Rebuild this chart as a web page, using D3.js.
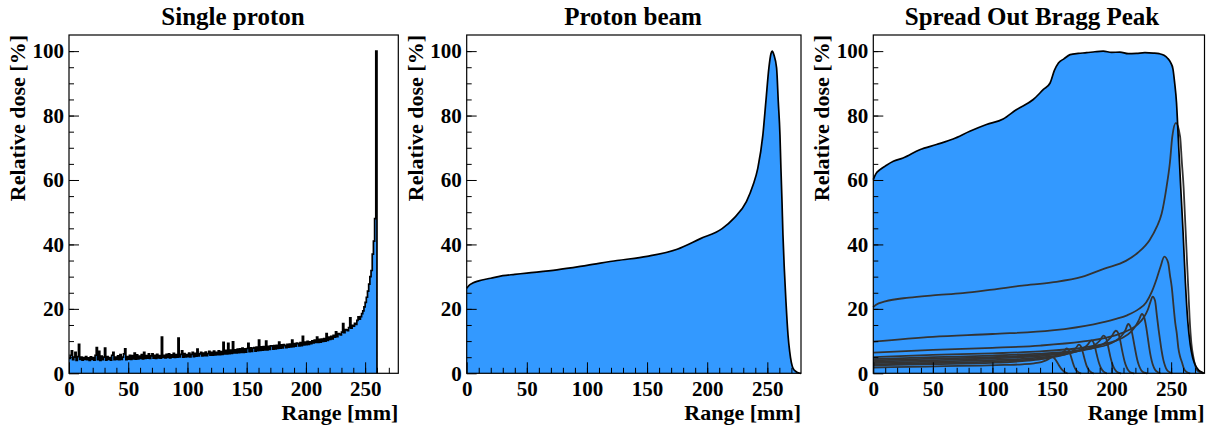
<!DOCTYPE html>
<html>
<head>
<meta charset="utf-8">
<script src="https://cdn.jsdelivr.net/npm/d3@7"></script>
<style>
  body { margin: 0; background: #fff; }
  text { font-family: "Liberation Serif", "Times New Roman", serif; font-weight: bold; }
</style>
</head>
<body>
<div id="chart"></div>
<script>
// ---- data ----
var panelTitles = ["Single proton", "Proton beam", "Spread Out Bragg Peak"];
var xTickLabels = [0, 50, 100, 150, 200, 250];
var yTickLabels = [0, 20, 40, 60, 80, 100];

// single proton: 1 mm bins from 0 to 260
var singleDose = [
  4.6, 5.6, 7.0, 4.2, 5.0, 6.5, 4.0, 5.2, 9.0, 4.3,
  5.0, 4.1, 4.9, 4.3, 5.2, 4.2, 4.8, 4.0, 5.1, 4.3,
  4.9, 4.1, 5.6, 8.0, 4.2, 6.8, 4.0, 5.3, 4.2, 5.0,
  7.8, 4.1, 5.2, 4.3, 4.9, 4.1, 5.6, 6.5, 4.2, 5.0,
  4.3, 5.4, 4.2, 5.8, 4.3, 5.0, 6.0, 7.6, 4.2, 5.2,
  4.4, 5.6, 4.3, 5.5, 4.5, 6.3, 4.4, 5.7, 4.5, 5.3,
  4.6, 5.8, 4.5, 6.5, 4.6, 5.5, 4.7, 6.0, 4.6, 5.4,
  6.0, 4.7, 5.6, 4.6, 5.9, 4.8, 5.5, 4.7, 11.2, 4.9,
  5.6, 4.8, 5.9, 4.9, 6.0, 4.8, 5.7, 5.0, 6.2, 4.9,
  5.8, 5.0, 10.9, 5.1, 5.9, 7.0, 5.0, 6.1, 5.1, 5.8,
  5.2, 6.3, 5.1, 5.9, 6.5, 5.2, 6.2, 5.3, 7.5, 5.4,
  6.0, 6.5, 5.4, 6.3, 5.5, 6.6, 5.5, 6.1, 6.8, 5.6,
  6.5, 5.6, 6.9, 5.7, 6.5, 5.8, 7.0, 5.8, 6.7, 5.9,
  9.6, 6.0, 7.1, 6.0, 9.3, 6.1, 7.2, 6.2, 9.8, 6.3,
  7.3, 6.3, 7.5, 6.4, 7.6, 6.5, 7.8, 6.5, 7.6, 6.6,
  7.7, 9.3, 6.7, 7.9, 6.8, 7.8, 8.0, 6.9, 8.1, 7.0,
  10.3, 7.1, 8.2, 7.2, 8.3, 7.3, 10.0, 7.3, 8.4, 7.4,
  8.5, 8.5, 7.5, 8.6, 7.6, 8.7, 7.7, 9.7, 7.8, 8.8,
  7.9, 8.9, 8.6, 8.0, 9.0, 8.1, 9.1, 8.2, 10.3, 8.3,
  9.2, 8.4, 9.4, 9.2, 8.5, 9.5, 8.6, 11.5, 8.8, 9.7,
  8.9, 9.9, 9.0, 9.8, 9.2, 10.1, 9.4, 10.3, 9.6, 11.2,
  9.6, 10.5, 9.7, 10.6, 9.9, 10.8, 10.0, 12.3, 10.2, 11.2,
  10.5, 11.5, 10.7, 11.8, 11.2, 12.9, 11.4, 12.3, 12.2, 11.9,
  12.8, 15.4, 12.6, 13.6, 13.5, 13.2, 14.2, 17.2, 14.0, 14.9,
  14.6, 15.5, 15.2, 16.4, 17.5, 16.8, 17.6, 18.5, 19.4, 20.6,
  22.0, 23.6, 25.5, 27.7, 30.0, 31.9, 37.0, 41.0, 48.0, 100
];

// proton beam depth dose [mm, %]
var beamX = [0, 2, 5, 10, 20, 30, 40, 50, 75, 100, 125, 150, 175, 194.4, 212.4, 222.1,
  232.6, 238.2, 242.1, 246.3, 248.8, 251.3, 253, 254.1, 255.5, 257.7, 259.1, 260.5, 261.3,
  262.2, 263.0, 264.1, 265.5, 267.2, 268.6, 271.4, 274, 276.4, 278];
var beamY = [26.4, 27.3, 28.0, 28.7, 29.5, 30.3, 30.7, 31.1, 32.1, 33.5, 35.0, 36.3, 38.5, 41.8, 44.9, 48.1,
  53.3, 58.5, 63.7, 74.0, 84.4, 94.8, 99.2, 100, 98.8, 94.8, 84.4, 74.0, 63.7,
  53.3, 42.9, 32.6, 22.2, 11.9, 6.7, 1.5, 0.5, 0.1, 0];

// spread out Bragg peak (sum) [mm, %]
var sobp = [[0, 60.1], [2, 61.8], [5.6, 63.2], [10, 64.3], [16.8, 65.8], [25, 66.8], [39, 69.4],
  [53, 71.0], [67, 72.7], [81, 75.1], [95, 77.2], [109, 78.9], [120, 81.8], [134, 84.9],
  [142.8, 88.1], [148.4, 90.1], [152, 94.0], [155.4, 96.3], [160, 97.6], [165.2, 98.9],
  [172, 99.3], [179, 99.5], [186, 99.8], [193, 100], [200, 99.6], [207, 99.7], [214, 99.2],
  [221, 99.3], [228, 99.5], [235, 99.4], [240, 99.2], [244, 98.7], [247, 97.8], [249.5, 96.5],
  [251.5, 94.5], [253, 90], [254.5, 84], [256, 73], [258, 58], [260, 44], [262, 28], [264, 16],
  [266, 9], [268, 5], [270, 2.8], [273, 1], [276, 0.3], [277.5, 0]];

// weighted pristine peaks [mm, %]
var peak254 = [[0, 20.5], [2, 21.2], [10, 22.3], [30, 23.5], [50, 24.2], [75, 24.9], [100, 26.0],
  [125, 27.2], [150, 28.2], [175, 29.9], [194, 32.5], [212, 34.9], [222, 37.4], [232, 41.4],
  [238, 45.5], [242, 49.5], [246, 57.5], [249, 65.5], [251, 73.5], [254, 77.7], [257.5, 73.5],
  [259, 65.5], [260.5, 57.5], [261.5, 49.5], [262.5, 41.5], [263.5, 33.3], [264.5, 25.3],
  [265.5, 17.2], [267, 9.2], [268.6, 5.2], [271.4, 1.2], [274, 0.4], [277, 0]];
var peak244 = [[0, 9.8], [50, 11.3], [100, 12.2], [150, 13.3], [185, 15.2], [203, 16.8], [213, 18.0],
  [223, 20.0], [229, 22.0], [234, 25.5], [238, 29.5], [241, 33.0], [244.3, 36.2], [247.5, 34.3],
  [249, 30.5], [250.5, 26.8], [251.5, 23], [252.5, 19], [253.5, 15.5], [254.7, 12.5], [256, 8],
  [257.5, 5.2], [259, 3.5], [261, 1.2], [263, 0.4], [266, 0]];
var peak234 = [[0, 6.4], [50, 7.3], [100, 7.9], [140, 8.6], [175, 9.8], [195, 11.0], [205, 12.0],
  [215, 13.5], [222, 15.2], [227, 17.3], [230.5, 19.8], [232.5, 22.0], [234.5, 23.8], [236.5, 22.5],
  [238, 18], [239.5, 13.5], [240.7, 10.3], [242, 7], [243.5, 4.1], [245, 2.2], [246.5, 1.0],
  [249, 0.3], [251, 0]];
var peak225 = [[0, 5.0], [50, 5.7], [100, 6.2], [140, 6.8], [170, 7.7], [190, 8.8], [202, 9.9],
  [210, 11.2], [216, 12.8], [220, 14.6], [223, 16.6], [225.5, 18.4], [227.5, 17.2], [229, 14.5],
  [230.5, 10.8], [231.5, 8.2], [233, 5.0], [234.5, 2.8], [236.5, 1.1], [239, 0.3], [241, 0]];
var peak214 = [[0, 4.4], [50, 5.0], [100, 5.5], [140, 6.1], [165, 6.8], [183, 7.7], [195, 8.7],
  [203, 10.0], [208, 11.5], [211.5, 13.3], [214, 15.3], [216, 14.3], [217.5, 12], [219, 9],
  [220, 7], [221.5, 4.3], [223, 2.4], [225, 0.9], [227.5, 0.2], [230, 0]];
var peak204 = [[0, 4.0], [50, 4.55], [100, 5.0], [135, 5.6], [160, 6.4], [177, 7.3], [188, 8.3],
  [195, 9.6], [199.5, 11.2], [203.7, 13.2], [205.7, 12.4], [207.2, 10.3], [208.6, 7.6], [209.6, 5.8],
  [211, 3.6], [212.5, 2.0], [214.5, 0.7], [217, 0.1], [219, 0]];
var peak193 = [[0, 3.6], [50, 4.1], [100, 4.6], [130, 5.1], [152, 5.8], [168, 6.6], [179, 7.6],
  [186, 8.8], [190, 10.1], [193.3, 11.7], [195.2, 11.0], [196.7, 9.1], [198, 6.8], [199, 5.1],
  [200.4, 3.2], [202, 1.7], [204, 0.6], [206.5, 0.1], [208, 0]];
var peak183 = [[0, 3.2], [50, 3.65], [100, 4.1], [125, 4.5], [145, 5.1], [160, 5.8], [170, 6.7],
  [176, 7.7], [180, 8.9], [183, 10.2], [184.8, 9.6], [186.2, 7.9], [187.5, 5.9], [188.5, 4.4],
  [189.8, 2.8], [191.3, 1.5], [193.3, 0.5], [196, 0]];
var peak172 = [[0, 2.8], [50, 3.2], [100, 3.65], [120, 4.0], [138, 4.5], [152, 5.1], [161, 5.9],
  [167, 6.8], [170, 7.8], [172.5, 8.9], [174.2, 8.4], [175.6, 6.9], [176.8, 5.2], [177.8, 3.8],
  [179, 2.4], [180.5, 1.3], [182.5, 0.4], [185, 0]];
var peak162 = [[0, 2.5], [50, 2.85], [100, 3.25], [115, 3.5], [130, 3.95], [143, 4.5], [151, 5.1],
  [157, 5.9], [160, 6.8], [162.3, 7.7], [164, 7.3], [165.3, 6.0], [166.5, 4.5], [167.5, 3.3],
  [168.6, 2.1], [170, 1.1], [172, 0.35], [174.5, 0]];
var peak150 = [[0, 1.8], [30, 2.0], [60, 2.2], [90, 2.4], [110, 2.6], [125, 2.8], [135, 3.1],
  [141, 3.5], [145, 4.0], [148, 4.6], [150, 5.0], [151.5, 4.8], [153, 4.2], [155, 3.0],
  [157, 1.8], [159, 0.9], [161, 0.3], [163, 0]];
var pristinePeaks = [peak254, peak244, peak234, peak225, peak214, peak204, peak193,
  peak183, peak172, peak162, peak150];

// ---- layout ----
var width = 1210, height = 429;
var frameTop = 35, frameBottom = 373.3;
var frames = [
  { left: 69, right: 398.3, titleX: 233 },
  { left: 466.7, right: 801, titleX: 633 },
  { left: 873.3, right: 1204.5, titleX: 1032 }
];
var fillColor = "#3399ff";
var serif = "'Liberation Serif', 'Times New Roman', serif";

var svg = d3.select("#chart").append("svg")
  .attr("width", width)
  .attr("height", height);

var y = d3.scaleLinear().domain([0, 105]).range([frameBottom, frameTop]);

function makeX(f) {
  return d3.scaleLinear().domain([0, 278]).range([f.left, f.right]);
}

function drawAxes(f, x, i) {
  var g = svg.append("g");

  // minor ticks
  g.append("g")
    .attr("transform", "translate(" + f.left + ",0)")
    .call(d3.axisLeft(y).tickValues(d3.range(5, 105, 5)).tickSize(-5).tickFormat(""))
    .call(function(s) { s.select(".domain").remove(); });
  g.append("g")
    .attr("transform", "translate(0," + frameBottom + ")")
    .call(d3.axisBottom(x).tickValues(d3.range(10, 278, 10)).tickSize(-5.5).tickFormat(""))
    .call(function(s) { s.select(".domain").remove(); });

  // major ticks with labels
  var ya = g.append("g")
    .attr("transform", "translate(" + f.left + ",0)")
    .call(d3.axisLeft(y).tickValues(yTickLabels).tickSize(-10).tickPadding(5));
  var xa = g.append("g")
    .attr("transform", "translate(0," + frameBottom + ")")
    .call(d3.axisBottom(x).tickValues(xTickLabels).tickSize(-11).tickPadding(8));

  [ya, xa].forEach(function(a) {
    a.select(".domain").remove();
    a.attr("font-family", serif).attr("font-size", 21).attr("font-weight", "bold");
    a.selectAll("text").attr("fill", "#000");
  });
  g.selectAll("line").attr("stroke", "#000").attr("stroke-width", 1);

  // frame
  svg.append("rect")
    .attr("x", f.left)
    .attr("y", frameTop)
    .attr("width", f.right - f.left)
    .attr("height", frameBottom - frameTop)
    .attr("fill", "none")
    .attr("stroke", "#000")
    .attr("stroke-width", 1.2);

  // titles
  svg.append("text")
    .attr("x", f.titleX)
    .attr("y", 25)
    .attr("text-anchor", "middle")
    .attr("font-size", 25)
    .text(panelTitles[i]);

  svg.append("text")
    .attr("transform", "translate(" + (f.left - 44) + "," + frameTop + ") rotate(-90)")
    .attr("text-anchor", "end")
    .attr("font-size", 22)
    .text("Relative dose [%]");

  svg.append("text")
    .attr("x", f.right)
    .attr("y", 420)
    .attr("text-anchor", "end")
    .attr("font-size", 22)
    .text("Range [mm]");
}

// ---- panel 1: single proton histogram ----
(function() {
  var f = frames[0], x = makeX(f);
  var pts = singleDose.map(function(v, i) { return [i, v]; });
  var end = singleDose.length;
  pts.push([end, singleDose[end - 1]]);

  var area = d3.area().curve(d3.curveStepAfter)
    .x(function(d) { return x(d[0]); })
    .y0(y(0))
    .y1(function(d) { return y(d[1]); });
  var line = d3.line().curve(d3.curveStepAfter)
    .x(function(d) { return x(d[0]); })
    .y(function(d) { return y(d[1]); });

  svg.append("path").datum(pts).attr("d", area).attr("fill", fillColor);
  svg.append("path").datum(pts.concat([[end, 0]]))
    .attr("d", line)
    .attr("fill", "none")
    .attr("stroke", "#000")
    .attr("stroke-width", 1.7);
  drawAxes(f, x, 0);
})();

// ---- panel 2: proton beam ----
(function() {
  var f = frames[1], x = makeX(f);
  var pts = beamX.map(function(v, i) { return [v, beamY[i]]; });
  var area = d3.area().curve(d3.curveMonotoneX)
    .x(function(d) { return x(d[0]); })
    .y0(y(0))
    .y1(function(d) { return y(d[1]); });
  var line = d3.line().curve(d3.curveMonotoneX)
    .x(function(d) { return x(d[0]); })
    .y(function(d) { return y(d[1]); });
  svg.append("path").datum(pts).attr("d", area).attr("fill", fillColor);
  svg.append("path").datum(pts)
    .attr("d", line)
    .attr("fill", "none")
    .attr("stroke", "#000")
    .attr("stroke-width", 1.7);
  drawAxes(f, x, 1);
})();

// ---- panel 3: SOBP ----
(function() {
  var f = frames[2], x = makeX(f);
  var area = d3.area().curve(d3.curveMonotoneX)
    .x(function(d) { return x(d[0]); })
    .y0(y(0))
    .y1(function(d) { return y(d[1]); });
  var line = d3.line().curve(d3.curveMonotoneX)
    .x(function(d) { return x(d[0]); })
    .y(function(d) { return y(d[1]); });
  svg.append("path").datum(sobp).attr("d", area).attr("fill", fillColor);

  svg.append("g").selectAll("path")
    .data(pristinePeaks)
    .enter()
    .append("path")
    .attr("d", line)
    .attr("fill", "none")
    .attr("stroke", "#333")
    .attr("stroke-width", 1.8);

  svg.append("path").datum(sobp)
    .attr("d", line)
    .attr("fill", "none")
    .attr("stroke", "#000")
    .attr("stroke-width", 1.7);
  drawAxes(f, x, 2);
})();
</script>
</body>
</html>
